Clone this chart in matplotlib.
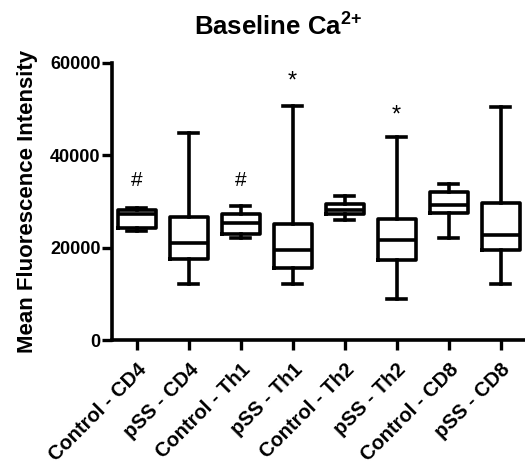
import matplotlib
matplotlib.use("Agg")
import matplotlib.pyplot as plt

plt.rcParams['font.family'] = ['Liberation Sans', 'DejaVu Sans']
plt.rcParams['font.weight'] = 'bold'
plt.rcParams['mathtext.fontset'] = 'custom'
plt.rcParams['mathtext.rm'] = 'Liberation Sans'
plt.rcParams['mathtext.bf'] = 'Liberation Sans:bold'

categories = ["Control - CD4", "pSS - CD4", "Control - Th1", "pSS - Th1",
              "Control - Th2", "pSS - Th2", "Control - CD8", "pSS - CD8"]
mins    = [23700, 12050, 22150, 12250, 26100,  9000, 22200, 12250]
q1s     = [24300, 17600, 23050, 15700, 27250, 17300, 27550, 19450]
medians = [27200, 21100, 25350, 19600, 28250, 21600, 29200, 22700]
q3s     = [28250, 26550, 27400, 25100, 29400, 26300, 32050, 29700]
maxs    = [28700, 44850, 28950, 50600, 31150, 43950, 33850, 50450]
annotations = ["#", "", "#", "*", "", "*", "", ""]
annot_y = [34600, 0, 34600, 56000, 0, 48600, 0, 0]
yticks = [0, 20000, 40000, 60000]

fig = plt.figure(figsize=(5.25, 4.66), dpi=100)
ax = fig.add_axes([0.213, 0.27, 0.79, 0.595])

stats = []
for c, lo, a, m, b, hi in zip(categories, mins, q1s, medians, q3s, maxs):
    stats.append(dict(label=c, whislo=lo, q1=a, med=m, q3=b, whishi=hi, fliers=[]))

lw = 2.6
ax.bxp(stats, positions=range(1, 9), widths=0.73, capwidths=0.37,
       showfliers=False,
       boxprops=dict(color='black', linewidth=lw),
       medianprops=dict(color='black', linewidth=lw),
       whiskerprops=dict(color='black', linewidth=lw),
       capprops=dict(color='black', linewidth=lw))

for i, (t, yv) in enumerate(zip(annotations, annot_y)):
    if t:
        ax.text(i + 1, yv, t, ha='center', va='center',
                fontsize=15 if t == '#' else 17, fontweight='normal')

ax.set_xlim(0.52, 8.5)
ax.set_ylim(0, 60000)
ax.set_yticks(yticks)
ax.set_yticklabels([str(v) for v in yticks], fontsize=13, fontweight='bold')
ax.set_xticks(range(1, 9))
ax.set_xticklabels(categories, rotation=45, ha='right', rotation_mode='anchor',
                   fontsize=14.5, fontweight='bold')
for s in ['top', 'right']:
    ax.spines[s].set_visible(False)
for s in ['left', 'bottom']:
    ax.spines[s].set_linewidth(2.6)
ax.tick_params(axis='both', width=2.4, length=7.2, direction='out')
ax.tick_params(axis='y', pad=1)
ax.tick_params(axis='x', pad=7)

ax.set_ylabel("Mean Fluorescence Intensity", fontsize=16, fontweight='bold')
ax.yaxis.set_label_coords(-0.179, 0.5)
fig.text(0.529, 0.945, "Baseline Ca$^{\\mathbf{2{+}}}$", ha='center', va='center',
         fontsize=18.5, fontweight='bold')

fig.savefig("out.png", dpi=100)
